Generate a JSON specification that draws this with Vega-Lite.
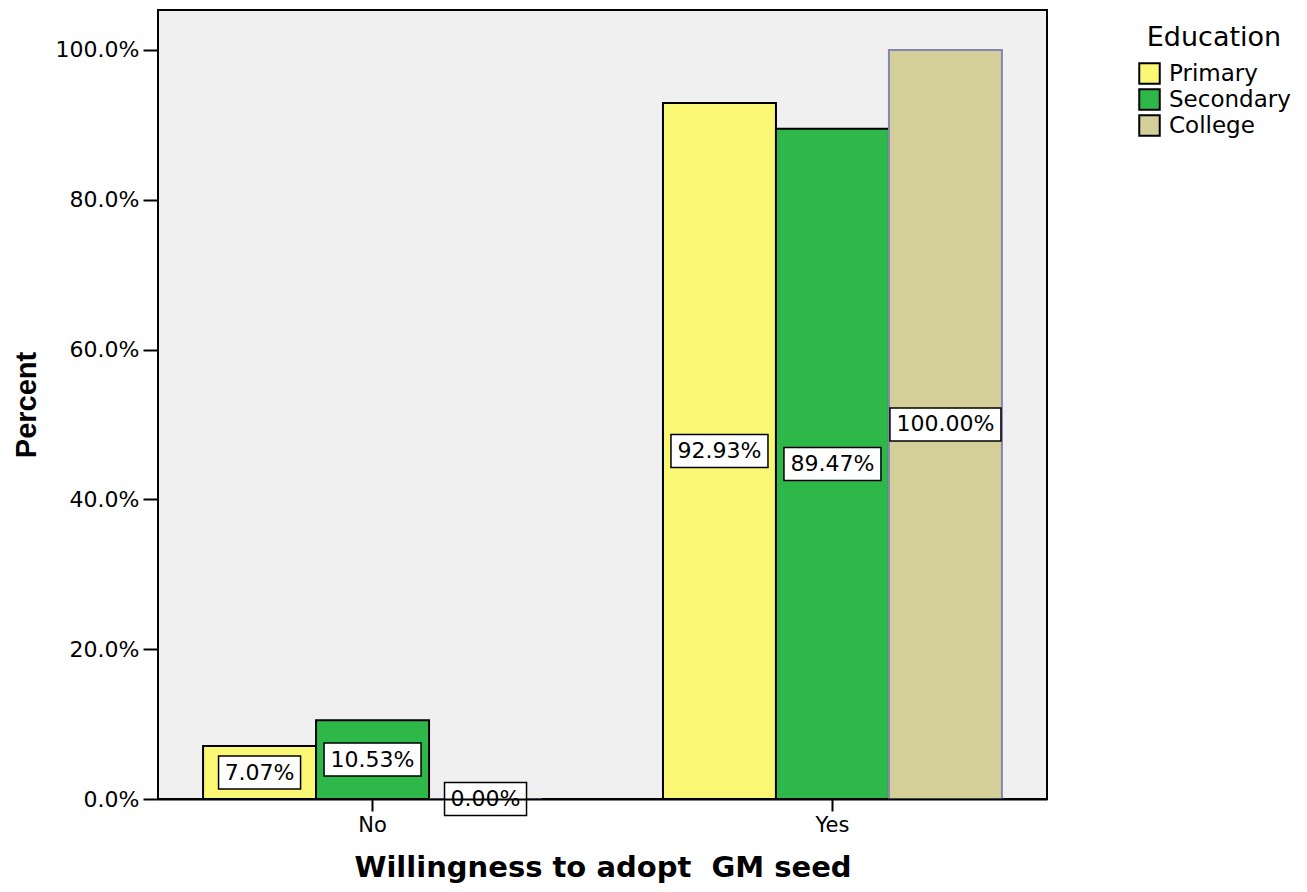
{
  "$schema": "https://vega.github.io/schema/vega-lite/v6.json",
  "autosize": "none",
  "width": 889,
  "height": 789,
  "padding": {"left": 158, "top": 10, "right": 260, "bottom": 93},
  "background": "white",
  "config": {
    "view": {"fill": "#f0f0f0", "stroke": "black", "strokeWidth": 2},
    "font": "DejaVu Sans"
  },
  "data": {
    "values": [
      {"willing": "No", "Education": "Primary", "value": 7.07, "label": "7.07%"},
      {"willing": "No", "Education": "Secondary", "value": 10.53, "label": "10.53%"},
      {"willing": "No", "Education": "College", "value": 0.0, "label": "0.00%"},
      {"willing": "Yes", "Education": "Primary", "value": 92.93, "label": "92.93%"},
      {"willing": "Yes", "Education": "Secondary", "value": 89.47, "label": "89.47%"},
      {"willing": "Yes", "Education": "College", "value": 100.0, "label": "100.00%"}
    ]
  },
  "transform": [{"calculate": "datum.value / 2", "as": "mid"}],
  "encoding": {
    "x": {
      "field": "willing",
      "type": "nominal",
      "scale": {"paddingInner": 0.263, "paddingOuter": 0.098},
      "axis": {
        "title": "Willingness to adopt\u00a0 GM seed",
        "titleFont": "DejaVu Sans",
        "titleFontSize": 29,
        "titleFontWeight": "bold",
        "titleColor": "black",
        "titleBaseline": "middle",
        "titleY": 68,
        "labelAngle": 0,
        "labelFont": "DejaVu Sans",
        "labelFontSize": 21,
        "labelColor": "black",
        "labelPadding": 3,
        "tickSize": 12,
        "tickWidth": 2,
        "tickColor": "black",
        "domainColor": "black",
        "domainWidth": 2,
        "zindex": 1
      }
    },
    "xOffset": {
      "field": "Education",
      "type": "nominal",
      "sort": ["Primary", "Secondary", "College"],
      "scale": {"paddingInner": 0, "paddingOuter": 0}
    }
  },
  "layer": [
    {
      "mark": {"type": "bar", "strokeWidth": 2},
      "encoding": {
        "y": {
          "field": "value",
          "type": "quantitative",
          "scale": {"domain": [0, 105.34], "nice": false, "zero": true},
          "axis": {
            "title": "Percent",
            "titleFont": "Liberation Sans",
            "titleFontSize": 29,
            "titleFontWeight": "bold",
            "titleColor": "black",
            "titleX": -132,
            "titleBaseline": "middle",
            "values": [0, 20, 40, 60, 80, 100],
            "labelExpr": "format(datum.value, '.1f') + '%'",
            "labelFont": "DejaVu Sans",
            "labelFontSize": 22,
            "labelColor": "black",
            "labelPadding": 4,
            "tickSize": 15,
            "tickWidth": 2,
            "tickColor": "black",
            "domain": false,
            "grid": false
          }
        },
        "color": {
          "field": "Education",
          "type": "nominal",
          "sort": ["Primary", "Secondary", "College"],
          "scale": {
            "domain": ["Primary", "Secondary", "College"],
            "range": ["#f9f774", "#2fb84a", "#d4ce98"]
          },
          "legend": {
            "orient": "none",
            "legendX": 980,
            "legendY": 15,
            "title": "Education",
            "titleFont": "DejaVu Sans",
            "titleFontSize": 27,
            "titleFontWeight": "normal",
            "titleColor": "black",
            "titleAnchor": "middle",
            "titlePadding": 10,
            "labelFont": "DejaVu Sans",
            "labelFontSize": 23,
            "labelColor": "black",
            "labelOffset": 8,
            "symbolType": "square",
            "symbolSize": 420,
            "symbolStrokeColor": "black",
            "symbolStrokeWidth": 2,
            "symbolOpacity": 1,
            "rowPadding": -6
          }
        },
        "stroke": {
          "condition": {"test": "datum.Education === 'College'", "value": "#8585b5"},
          "value": "black"
        }
      }
    },
    {
      "mark": {"type": "point", "filled": true, "fill": "white", "stroke": "black", "strokeWidth": 1.5, "opacity": 1, "size": 10000},
      "encoding": {
        "y": {"field": "mid", "type": "quantitative"},
        "shape": {
          "field": "label",
          "type": "nominal",
          "scale": {
            "domain": ["7.07%", "10.53%", "0.00%", "92.93%", "89.47%", "100.00%"],
            "range": [
              "M-0.82,-0.33L0.82,-0.33L0.82,0.33L-0.82,0.33Z",
              "M-0.97,-0.33L0.97,-0.33L0.97,0.33L-0.97,0.33Z",
              "M-0.82,-0.33L0.82,-0.33L0.82,0.33L-0.82,0.33Z",
              "M-0.97,-0.33L0.97,-0.33L0.97,0.33L-0.97,0.33Z",
              "M-0.97,-0.33L0.97,-0.33L0.97,0.33L-0.97,0.33Z",
              "M-1.11,-0.33L1.11,-0.33L1.11,0.33L-1.11,0.33Z"
            ]
          },
          "legend": null
        }
      }
    },
    {
      "mark": {"type": "text", "font": "DejaVu Sans", "fontSize": 22, "color": "black", "align": "center", "baseline": "middle"},
      "encoding": {
        "y": {"field": "mid", "type": "quantitative"},
        "text": {"field": "label", "type": "nominal"}
      }
    }
  ]
}
